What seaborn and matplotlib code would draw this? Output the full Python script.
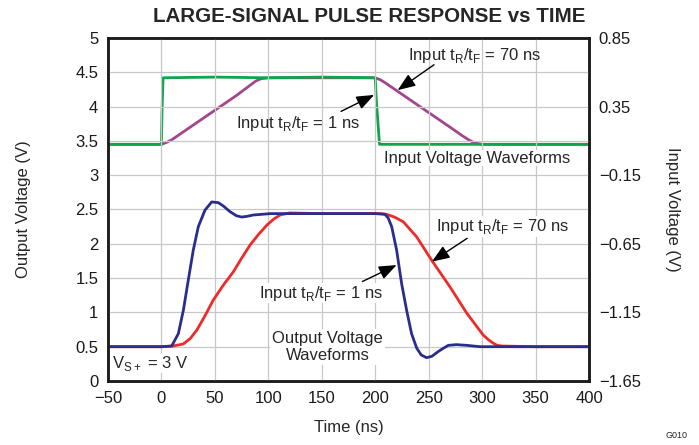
import matplotlib
matplotlib.use("Agg")
import matplotlib.pyplot as plt
import seaborn as sns
import pandas as pd

# Input waveforms (right axis, V)
t_in_fast = [-50, 0, 0.5, 1.5, 50, 100, 150, 200, 201, 204, 250, 300, 350, 400]
v_in_fast = [0.075, 0.075, 0.3, 0.56, 0.565, 0.56, 0.565, 0.56, 0.4, 0.075, 0.075, 0.075, 0.075, 0.075]

t_in_slow = [-50, 0, 5, 10, 25, 40, 55, 70, 82, 88, 93, 100, 150, 200, 205, 210, 225, 240, 255, 270, 282, 288, 293, 300, 350, 400]
v_in_slow = [0.075, 0.075, 0.09, 0.11, 0.19, 0.27, 0.35, 0.43, 0.50, 0.535, 0.553, 0.56, 0.56, 0.56, 0.545, 0.52, 0.44, 0.36, 0.28, 0.20, 0.135, 0.105, 0.085, 0.075, 0.075, 0.075]

# Output waveforms (left axis, V)
t_out_fast = [-50, 0, 9.6, 15.8, 20.5, 25.1, 29.8, 34.5, 40.7, 47, 53.2, 58, 64, 70, 75, 80, 86, 94, 102, 150, 200,
              209, 212, 215.4, 220, 224.7, 229.4, 234, 238.8, 243, 248, 253, 259, 264, 268.4, 276, 285.6, 298, 320, 350, 400]
v_out_fast = [0.5, 0.5, 0.51, 0.69, 1.03, 1.47, 1.91, 2.25, 2.49, 2.61, 2.60, 2.55, 2.47, 2.41, 2.39, 2.40, 2.42, 2.43, 2.44, 2.44, 2.44,
              2.43, 2.38, 2.25, 1.91, 1.42, 1.03, 0.69, 0.48, 0.38, 0.34, 0.36, 0.43, 0.48, 0.52, 0.53, 0.52, 0.5, 0.5, 0.5, 0.5]

t_out_slow = [-50, 0, 11, 20.5, 27, 33, 40, 48.5, 58, 67.2, 75, 82.8, 91, 98.5, 105, 111, 120, 150, 200,
              205, 210.7, 218, 226.3, 238.8, 252.8, 270, 285.6, 301, 306, 310.5, 314, 318.3, 350, 400]
v_out_slow = [0.5, 0.5, 0.51, 0.54, 0.62, 0.74, 0.93, 1.18, 1.40, 1.59, 1.79, 1.98, 2.14, 2.27, 2.36, 2.42, 2.45, 2.44, 2.44,
              2.44, 2.43, 2.39, 2.32, 2.10, 1.76, 1.37, 0.99, 0.67, 0.60, 0.55, 0.52, 0.51, 0.5, 0.5]

x_ticks = [-50, 0, 50, 100, 150, 200, 250, 300, 350, 400]
left_ticks = [0, 0.5, 1, 1.5, 2, 2.5, 3, 3.5, 4, 4.5, 5]
right_ticks = [-1.65, -1.15, -0.65, -0.15, 0.35, 0.85]

GREEN = "#10a54a"
PURPLE = "#a2468e"
BLUE = "#2b2d8e"
RED = "#ee2a2a"

sns.set_theme(style="white")
plt.rcParams["font.family"] = ["Liberation Sans", "DejaVu Sans"]
plt.rcParams["axes.unicode_minus"] = True

fig = plt.figure(figsize=(6.99, 4.45), dpi=100)
ax = fig.add_axes([108 / 699, 1 - 381 / 445, 481 / 699, 343 / 445])
ax2 = ax.twinx()

fast_in = pd.DataFrame({"t": t_in_fast, "v": v_in_fast})
slow_in = pd.DataFrame({"t": t_in_slow, "v": v_in_slow})
fast_out = pd.DataFrame({"t": t_out_fast, "v": v_out_fast})
slow_out = pd.DataFrame({"t": t_out_slow, "v": v_out_slow})

sns.lineplot(data=slow_in, x="t", y="v", ax=ax2, color=PURPLE, linewidth=2.0, sort=False)
sns.lineplot(data=fast_in, x="t", y="v", ax=ax2, color=GREEN, linewidth=2.0, sort=False)
sns.lineplot(data=slow_out, x="t", y="v", ax=ax, color=RED, linewidth=2.0, sort=False)
sns.lineplot(data=fast_out, x="t", y="v", ax=ax, color=BLUE, linewidth=2.0, sort=False)

ax.set_xlim(-50, 400)
ax.set_ylim(0, 5)
ax2.set_ylim(-1.65, 0.85)
ax.set_xticks(x_ticks)
ax.set_yticks(left_ticks)
ax.set_yticklabels([f"{v:g}" for v in left_ticks])
ax2.set_yticks(right_ticks)
ax2.set_yticklabels([f"{v:.2f}".replace("-", "\u2212") for v in right_ticks])
ax.set_xticklabels([f"{v:g}".replace("-", "\u2212") for v in x_ticks])

ax.grid(True, color="#c8c8c8", linewidth=0.9)
ax.set_axisbelow(True)
ax2.grid(False)
for a in (ax, ax2):
    for s in a.spines.values():
        s.set_color("#1a1a1a")
        s.set_linewidth(1.8)
    a.tick_params(length=0, labelsize=12, colors="#1a1a1a", pad=7)

ax.set_xlabel("Time (ns)", fontsize=12, labelpad=10)
ax.set_ylabel("Output Voltage (V)", fontsize=12, labelpad=32)
ax2.set_ylabel("Input Voltage (V)", fontsize=12, rotation=270, labelpad=28)

fig.text(369 / 699, 1 - 17 / 445, "LARGE-SIGNAL PULSE RESPONSE vs TIME",
         ha="center", va="center", fontsize=14.8, fontweight="bold")
fig.text(688 / 699, 1 - 436 / 445, "G010", ha="right", va="center", fontsize=6.5)

fs = 12
arrow = dict(arrowstyle="-|>,head_length=0.9,head_width=0.35", color="black", lw=1.0, shrinkA=0, shrinkB=0)

ax.text(230.5, 4.75, r"Input t$_\mathregular{R}$/t$_\mathregular{F}$ = 70 ns", fontsize=fs, va="center", ha="left")
ax.annotate("", xy=(221, 4.24), xytext=(255, 4.61), arrowprops=arrow)
ax.text(69.5, 3.76, r"Input t$_\mathregular{R}$/t$_\mathregular{F}$ = 1 ns", fontsize=fs, va="center", ha="left")
ax.annotate("", xy=(199, 4.17), xytext=(168, 3.93), arrowprops=arrow)
ax.text(208, 3.25, "Input Voltage Waveforms", fontsize=fs, va="center", ha="left",
        bbox=dict(facecolor="white", edgecolor="none", pad=0.5))

ax.text(257, 2.25, r"Input t$_\mathregular{R}$/t$_\mathregular{F}$ = 70 ns", fontsize=fs, va="center", ha="left",
        bbox=dict(facecolor="white", edgecolor="none", pad=0.5))
ax.annotate("", xy=(253, 1.74), xytext=(286, 2.08), arrowprops=arrow)
ax.text(91, 1.28, r"Input t$_\mathregular{R}$/t$_\mathregular{F}$ = 1 ns", fontsize=fs, va="center", ha="left",
        bbox=dict(facecolor="white", edgecolor="none", pad=0.5))
ax.annotate("", xy=(220, 1.69), xytext=(188, 1.45), arrowprops=arrow)
ax.text(155.5, 0.49, "Output Voltage\nWaveforms", fontsize=fs, va="center", ha="center", linespacing=1.15,
        bbox=dict(facecolor="white", edgecolor="none", pad=1.5))
ax.text(-46, 0.26, r"V$_\mathregular{S+}$ = 3 V", fontsize=fs, va="center", ha="left",
        bbox=dict(facecolor="white", edgecolor="none", pad=0.5))

ax.set_zorder(ax2.get_zorder() + 1)
ax.patch.set_visible(False)

fig.savefig("out.png", dpi=100, facecolor="white")
